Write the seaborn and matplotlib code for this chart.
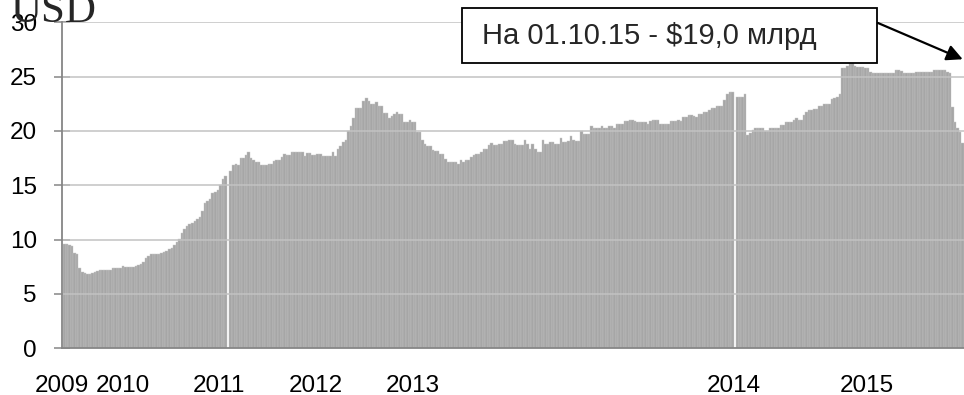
import numpy as np
import pandas as pd
import matplotlib
matplotlib.use("Agg")
import matplotlib.pyplot as plt
from matplotlib.patches import Rectangle
import seaborn as sns

nan = np.nan

# Weekly reserve values (bln USD), grouped by calendar year of the axis
w2009 = [9.6, 9.6, 9.5, 9.45, 8.8, 8.7, 7.4, 7.0, 6.9, 6.85,
         6.85, 6.9, 7.0, 7.15, 7.2, 7.2, 7.2, 7.2, 7.25, 7.4,
         7.35, 7.4, 7.4, 7.55, 7.45, 7.45, 7.45, 7.45, 7.55, 7.65,
         7.8, 7.95, 8.3, 8.45, 8.7, 8.7, 8.7, 8.7, 8.75, 8.85,
         9.0, 9.1, 9.25, 9.5, 9.75, 10.1, 10.6, 11.0, 11.3, 11.4,
         11.5, 11.7]
w2010 = [11.9, 12.1, 12.6, 13.4, 13.6, 13.7, 14.3, 14.4, 14.6, 15.0,
         15.6, 15.9, nan, 16.3, 16.9, 16.97, 16.9, 17.5, 17.5, 17.8,
         18.05, 17.5, 17.3, 17.1, 17.1, 16.9, 16.9, 16.85, 16.97, 17.0,
         17.2, 17.35, 17.3, 17.6, 17.87, 17.8, 17.75, 18.1, 18.1, 18.1,
         18.1, 18.1, 17.7, 17.99, 17.99, 17.8, 17.8, 17.9, 17.9, 17.7,
         17.7, 17.7]
w2011 = [17.7, 18.05, 17.7, 18.36, 18.6, 19.0, 19.2, 19.97, 20.46, 21.2,
         22.07, 22.07, 22.07, 22.75, 23.0, 22.75, 22.47, 22.47, 22.68, 22.3,
         22.3, 21.66, 21.66, 21.2, 21.4, 21.6, 21.76, 21.57, 21.57, 20.83,
         20.83, 21.0, 20.83, 20.83, 19.9, 19.9, 19.13, 18.8, 18.6, 18.58,
         18.27, 18.2, 18.2, 17.9, 17.9, 17.4, 17.13, 17.13, 17.13, 17.13,
         16.97, 17.34, 17.19]
w2012 = [17.37, 17.37, 17.6, 17.75, 17.9, 17.9, 18.1, 18.36, 18.36, 18.67,
         18.92, 18.67, 18.67, 18.8, 18.8, 19.04, 19.04, 19.13, 19.13, 18.8,
         18.73, 18.73, 18.73, 19.13, 18.8, 18.3, 18.76, 18.36, 18.1, 18.1,
         19.15, 18.8, 18.8, 18.98, 18.98, 18.8, 18.8, 19.35, 18.98, 18.98,
         19.07, 19.53, 19.19, 19.04, 19.04, 19.97, 19.75, 19.75, 19.75, 20.43,
         20.27, 20.27]
w2013 = [20.27, 20.46, 20.27, 20.27, 20.46, 20.46, 20.3, 20.64, 20.64, 20.64,
         20.89, 20.89, 21.0, 21.0, 20.89, 20.83, 20.83, 20.83, 20.83, 20.64,
         20.89, 21.0, 21.0, 21.0, 20.64, 20.64, 20.67, 20.67, 20.89, 20.89,
         20.89, 21.0, 20.9, 21.3, 21.3, 21.5, 21.5, 21.4, 21.3, 21.6,
         21.6, 21.7, 21.7, 21.9, 22.1, 22.1, 22.3, 22.3, 22.3, 22.86,
         23.4, 23.55]
w2014 = [23.55, nan, 23.16, 23.16, 23.16, 23.4, 19.64, 19.85, 20.1, 20.3,
         20.3, 20.3, 20.3, 20.03, 20.03, 20.3, 20.3, 20.3, 20.3, 20.54,
         20.54, 20.84, 20.84, 20.84, 21.05, 21.23, 21.05, 21.05, 21.44, 21.75,
         21.9, 21.9, 22.0, 22.0, 22.26, 22.26, 22.5, 22.5, 22.5, 22.9,
         23.0, 23.1, 23.4, 25.75, 25.8, 26.0, 26.26, 26.26, 26.0, 25.9,
         25.87, 25.87, 25.75]
w2015 = [25.75, 25.4, 25.3, 25.3, 25.3, 25.3, 25.3, 25.3, 25.3, 25.3,
         25.3, 25.57, 25.57, 25.5, 25.3, 25.3, 25.3, 25.3, 25.3, 25.42,
         25.42, 25.42, 25.42, 25.42, 25.42, 25.42, 25.57, 25.57, 25.57, 25.57,
         25.57, 25.4, 25.3, 22.2, 20.84, 20.24, 19.94, 18.9]

years = [w2009, w2010, w2011, w2012, w2013, w2014, w2015]
year_labels = ["2009", "2010", "2011", "2012", "2013", "2014", "2015"]
label_pos = [-0.9, 22.9, 60.4, 98.2, 136.1, 261.4, 313.6]
y_ticks = [0, 5, 10, 15, 20, 25, 30]
unit_label = "USD"
note_text = "На 01.10.15 - $19,0 млрд"

values = np.concatenate([np.array(y, dtype=float) for y in years])
N = len(values)
df = pd.DataFrame({"week": np.arange(N), "value": values})

sns.set_theme(style="white")
plt.rcParams["font.family"] = ["Liberation Sans", "DejaVu Sans"]

fig = plt.figure(figsize=(9.64, 3.95), dpi=100)
ax = fig.add_axes([62 / 964, 1 - 348.3 / 395, 1 - 62 / 964, (348.3 - 22.3) / 395])

sns.barplot(data=df, x="week", y="value", order=list(range(N)), color="#a6a6a6",
            saturation=1, width=1.0, errorbar=None, edgecolor="#c6c6c6",
            linewidth=0.3, ax=ax, zorder=2)

ax.set_xlim(-0.5, N - 0.5)
ax.set_ylim(0, 30)
ax.set_yticks(y_ticks)
ax.set_yticklabels([str(t) for t in y_ticks])
ax.set_xlabel("")
ax.set_ylabel("")

# year boundaries as tick marks
bounds = np.cumsum([0] + [len(y) for y in years[:-1]]) - 0.5
ax.set_xticks(bounds)
ax.set_xticklabels([""] * len(bounds))
ax.set_xticks(label_pos, minor=True)
ax.set_xticklabels(year_labels, minor=True)
ax.tick_params(axis="x", which="major", length=6.5, width=1.1, color="#868686", direction="out")
ax.tick_params(axis="x", which="minor", length=0, pad=19, labelsize=17.5, labelcolor="black")
ax.tick_params(axis="y", length=11, width=1.1, color="#868686", direction="inout", pad=12.5,
               labelsize=17.5, labelcolor="black", left=True)

ax.grid(False)
for t in y_ticks[1:]:
    ax.axhline(t, color="#c2c2c2", lw=1.1, zorder=3)
for side in ["top", "right"]:
    ax.spines[side].set_visible(False)
for side in ["left", "bottom"]:
    ax.spines[side].set_color("#868686")
    ax.spines[side].set_linewidth(1.3)
    ax.spines[side].set_zorder(4)

fig.text(10 / 964, 1 - 21.7 / 395, unit_label, family=["Liberation Serif", "DejaVu Serif"],
         fontsize=31, va="baseline", ha="left")

fig.patches.append(Rectangle((462 / 964, 1 - 63 / 395), (877 - 462) / 964, 55 / 395,
                             transform=fig.transFigure, facecolor="white",
                             edgecolor="black", linewidth=1.3, zorder=5))
fig.text(482 / 964, 1 - 36 / 395, note_text, fontsize=21, va="center", ha="left", zorder=6)

ax.annotate("", xy=(N - 1, 26.6), xycoords="data",
            xytext=(878 / 964, 1 - 23 / 395), textcoords="figure fraction",
            arrowprops=dict(arrowstyle="-|>", color="black", lw=1.6, mutation_scale=24,
                            shrinkA=0, shrinkB=0),
            annotation_clip=False, zorder=6)

fig.savefig("out.png", dpi=100)
